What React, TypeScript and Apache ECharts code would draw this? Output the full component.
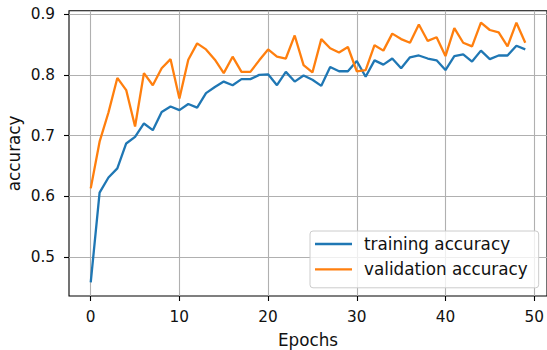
import React, { useEffect, useRef } from "react";
import * as echarts from "echarts";

const epochs: number[] = Array.from({ length: 50 }, (_, i) => i);

const trainingAccuracy: number[] = [
  0.458, 0.606, 0.631, 0.646, 0.687, 0.698, 0.72, 0.709, 0.739, 0.748,
  0.742, 0.752, 0.746, 0.77, 0.78, 0.789, 0.783, 0.793, 0.793, 0.8,
  0.801, 0.783, 0.805, 0.789, 0.799, 0.792, 0.782, 0.813, 0.806, 0.806,
  0.823, 0.797, 0.824, 0.817, 0.827, 0.811, 0.829, 0.832, 0.827, 0.824,
  0.808, 0.831, 0.834, 0.822, 0.84, 0.826, 0.832, 0.832, 0.848, 0.842,
];

const validationAccuracy: number[] = [
  0.613, 0.69, 0.738, 0.795, 0.775, 0.715, 0.803, 0.783, 0.811, 0.826,
  0.761, 0.825, 0.852, 0.842, 0.825, 0.803, 0.83, 0.805, 0.805, 0.824,
  0.842, 0.83, 0.827, 0.865, 0.816, 0.804, 0.859, 0.844, 0.837, 0.846,
  0.806, 0.808, 0.849, 0.84, 0.868, 0.859, 0.853, 0.883, 0.856, 0.862,
  0.831, 0.877, 0.853, 0.847, 0.886, 0.874, 0.87, 0.847, 0.886, 0.853,
];

const seriesNames = ["training accuracy", "validation accuracy"];
const xLabel = "Epochs";
const yLabel = "accuracy";

const FONT = "DejaVu Sans";
const TXT = "#111";

export default function App() {
  const ref = useRef<HTMLDivElement>(null);
  useEffect(() => {
    if (!ref.current) return;
    const chart = echarts.init(ref.current, null, { renderer: "svg" });
    const hidden = {
      axisLine: { show: false },
      axisTick: { show: false },
      axisLabel: { show: false },
      splitLine: { show: false },
    };
    chart.setOption({
      animation: false,
      backgroundColor: "#ffffff",
      grid: [
        {
          left: 69, top: 10.7, width: 478, height: 285.3,
          show: true, borderColor: "#000", borderWidth: 1.1,
          backgroundColor: "transparent", containLabel: false,
          outerBoundsMode: "none",
        },
        { left: 90.5, top: 10.7, width: 443.8, height: 285.3, containLabel: false, outerBoundsMode: "none" },
        { left: 69, top: 14.2, width: 478, height: 242.8, containLabel: false, outerBoundsMode: "none" },
      ],
      xAxis: [
        {
          gridIndex: 0, type: "value", min: -2.45, max: 51.45, ...hidden,
          name: xLabel, nameLocation: "middle", nameGap: 35.5,
          nameTextStyle: { fontFamily: FONT, fontSize: 16.8, color: TXT },
        },
        {
          gridIndex: 1, type: "value", min: 0, max: 50, interval: 10,
          axisLine: { show: false },
          axisTick: { show: true, inside: false, length: 5, lineStyle: { color: "#000", width: 1.1 } },
          axisLabel: { show: true, margin: 13, fontFamily: FONT, fontSize: 15.3, color: TXT },
          splitLine: { show: true, lineStyle: { color: "#b0b0b0", width: 1.1 } },
        },
        { gridIndex: 2, type: "value", min: 0, max: 1, ...hidden },
      ],
      yAxis: [
        {
          gridIndex: 0, type: "value", min: 0.4357, max: 0.9058, ...hidden,
          name: yLabel, nameLocation: "middle", nameGap: 47, nameRotate: 90,
          nameTextStyle: { fontFamily: FONT, fontSize: 16.8, color: TXT },
        },
        { gridIndex: 1, type: "value", min: 0, max: 1, ...hidden },
        {
          gridIndex: 2, type: "value", min: 0.5, max: 0.9, interval: 0.1,
          axisLine: { show: false },
          axisTick: { show: true, inside: false, length: 5, lineStyle: { color: "#000", width: 1.1 } },
          axisLabel: {
            show: true, margin: 14, fontFamily: FONT, fontSize: 15.3, color: TXT,
            formatter: (v: number) => v.toFixed(1),
          },
          splitLine: { show: true, lineStyle: { color: "#b0b0b0", width: 1.1 } },
        },
      ],
      legend: {
        orient: "vertical",
        left: 310,
        top: 231,
        padding: [4.5, 11, 10, 5],
        itemWidth: 37,
        itemHeight: 2.3,
        itemGap: 8.3,
        icon: "rect",
        data: seriesNames,
        textStyle: {
          fontFamily: FONT, fontSize: 16.8, color: TXT, lineHeight: 17,
          padding: [0, 0, 0, 7],
        },
        backgroundColor: "rgba(255,255,255,0.8)",
        borderColor: "#cccccc",
        borderWidth: 1,
        borderRadius: 3,
      },
      series: [
        {
          name: seriesNames[0], type: "line", xAxisIndex: 0, yAxisIndex: 0,
          data: trainingAccuracy.map((v, i) => [epochs[i], v]),
          symbol: "none", clip: false, color: "#1f77b4",
          lineStyle: { color: "#1f77b4", width: 2.3 }, z: 3,
        },
        {
          name: seriesNames[1], type: "line", xAxisIndex: 0, yAxisIndex: 0,
          data: validationAccuracy.map((v, i) => [epochs[i], v]),
          symbol: "none", clip: false, color: "#ff7f0e",
          lineStyle: { color: "#ff7f0e", width: 2.3 }, z: 4,
        },
      ],
    });
    return () => chart.dispose();
  }, []);
  return (
    <div
      ref={ref}
      style={{ position: "fixed", left: 0, top: 0, width: 547, height: 350, background: "#fff" }}
    />
  );
}
